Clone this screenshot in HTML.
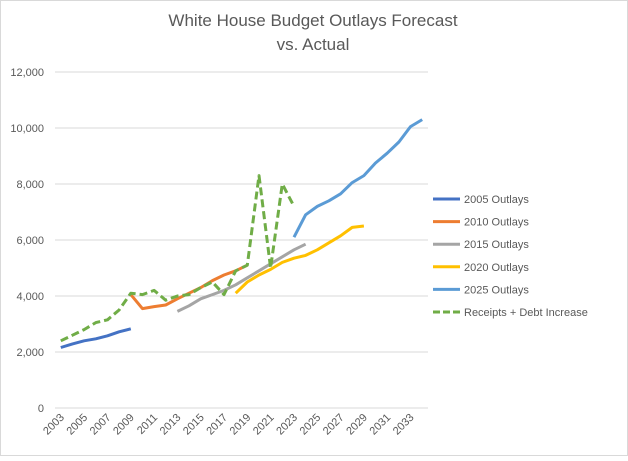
<!DOCTYPE html>
<html><head><meta charset="utf-8"><style>
body{margin:0;background:#fff;font-family:"Liberation Sans",sans-serif}
svg text{font-family:"Liberation Sans",sans-serif;fill:#595959}
</style></head><body>
<svg id="chart" width="628" height="456">
<rect x="0.5" y="0.5" width="627" height="455" fill="#fff" stroke="#d9d9d9"/>
<text x="313" y="26" text-anchor="middle" font-size="17">White House Budget Outlays Forecast</text>
<text x="313" y="50" text-anchor="middle" font-size="17">vs. Actual</text>
<g id="grid"></g><g id="series"></g><g id="legend"></g>
</svg>
<script>
const startYear = 2003, endYear = 2034;
const yTicks = [0,2000,4000,6000,8000,10000,12000];
const yTickLabels = ["0","2,000","4,000","6,000","8,000","10,000","12,000"];
const seriesNames = ["2005 Outlays","2010 Outlays","2015 Outlays","2020 Outlays","2025 Outlays","Receipts + Debt Increase"];
const seriesStart = [2003,2009,2013,2018,2023,2003];
const s2005 = [2160,2290,2400,2470,2580,2720,2830];
const s2010 = [4050,3550,3620,3680,3900,4100,4300,4550,4750,4900,5100];
const s2015 = [3450,3650,3900,4050,4200,4400,4650,4900,5150,5400,5650,5850];
const s2020 = [4100,4500,4750,4950,5200,5350,5450,5650,5900,6150,6450,6500];
const s2025 = [6100,6900,7200,7400,7650,8050,8300,8750,9100,9500,10050,10300];
const sReceipts = [2400,2600,2800,3050,3150,3500,4100,4050,4200,3850,4000,4050,4300,4500,4050,4900,5100,8300,5000,8000,7200];
const seriesValues = [s2005,s2010,s2015,s2020,s2025,sReceipts];
const colors = ["#4472c4","#ed7d31","#a5a5a5","#ffc000","#5b9bd5","#70ad47"];
const NS="http://www.w3.org/2000/svg";
const x0=55,x1=428,yTop=72,yBot=408;
const step=(x1-x0)/(endYear-startYear+1);
const xs=yr=>x0+(yr-startYear+0.5)*step;
const ys=v=>yBot-(v/12000)*(yBot-yTop);
function mk(tag,attrs,parent){const e=document.createElementNS(NS,tag);for(const k in attrs)e.setAttribute(k,attrs[k]);parent.appendChild(e);return e;}
const grid=document.getElementById('grid');
yTicks.forEach((t,i)=>{
 const l=mk('line',{x1:x0,x2:x1,y1:ys(t),y2:ys(t),stroke:'#d9d9d9','stroke-width':1},grid);
 
 
 const tx=mk('text',{x:44,y:ys(t)+4,'text-anchor':'end','font-size':11},grid);
 tx.textContent=yTickLabels[i];
 
 
});
for(let yr=startYear;yr<=endYear;yr+=2){
 const x=xs(yr);
 const tx=mk('text',{x:x+4,y:418,'text-anchor':'end','font-size':11,transform:`rotate(-45 ${x+4} 418)`},grid);
 tx.textContent=yr;
 
 
}
const sg=document.getElementById('series');
seriesValues.forEach((vals,i)=>{
 const pts=vals.map((v,j)=>xs(seriesStart[i]+j).toFixed(1)+','+ys(v).toFixed(1)).join(' ');
 const attrs={points:pts,fill:'none',stroke:colors[i],'stroke-width':3,'stroke-linejoin':'round'};
 if(i===5)attrs['stroke-dasharray']='8,4';
 const p=mk('polyline',attrs,sg);
 
 
});
const lg=document.getElementById('legend');
seriesNames.forEach((n,i)=>{
 const y=199+i*22.6;
 const g=mk('g',{},lg);
 
 
 const a={x1:433,x2:460,y1:y,y2:y,stroke:colors[i],'stroke-width':3};
 if(i===5)a['stroke-dasharray']='7,3';
 mk('line',a,g);
 const t=mk('text',{x:464,y:y+4,'font-size':11},g);
 t.textContent=n;
});
</script>
</body></html>
